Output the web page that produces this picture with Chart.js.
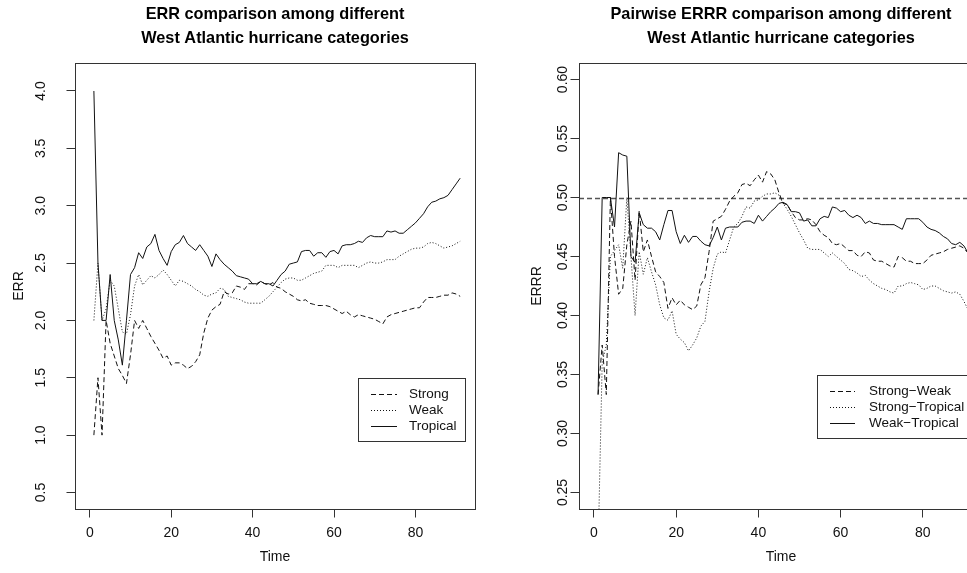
<!DOCTYPE html>
<html>
<head>
<meta charset="utf-8">
<script src="https://cdn.jsdelivr.net/npm/chart.js@4.4.1/dist/chart.umd.min.js"></script>
<style>
    html, body { margin: 0; padding: 0; background: #fff; overflow: hidden; }
    #wrap { position: relative; width: 967px; height: 573px; overflow: hidden; }
    canvas { position: absolute; top: 0; }
    #chart-err { left: 0; }
    #chart-errr { left: 520px; }
</style>
</head>
<body>
<div id="wrap">
    <canvas id="chart-err" width="550" height="573"></canvas>
    <canvas id="chart-errr" width="522" height="573"></canvas>
</div>
<script>
// time steps (x axis)
const timeSteps = Array.from({ length: 91 }, (_, i) => i + 1);
const timeTicks = [0, 20, 40, 60, 80];

// left panel: ERR per category
const errTicks = [0.5, 1.0, 1.5, 2.0, 2.5, 3.0, 3.5, 4.0];
const errStrong = [1.00, 1.50, 1.00, 2.00, 1.80, 1.69, 1.58, 1.52, 1.45, 1.70,
    2.00, 1.93, 2.00, 1.93, 1.86, 1.80, 1.74, 1.67, 1.69, 1.61,
    1.63, 1.63, 1.61, 1.58, 1.60, 1.64, 1.70, 1.89, 2.02, 2.09,
    2.12, 2.14, 2.25, 2.23, 2.24, 2.30, 2.29, 2.27, 2.32, 2.32,
    2.31, 2.34, 2.32, 2.31, 2.33, 2.29, 2.28, 2.25, 2.23, 2.21,
    2.18, 2.17, 2.18, 2.15, 2.14, 2.13, 2.13, 2.13, 2.12, 2.10,
    2.08, 2.06, 2.08, 2.05, 2.03, 2.05, 2.04, 2.03, 2.02, 2.01,
    1.99, 1.97, 2.03, 2.05, 2.06, 2.07, 2.08, 2.09, 2.10, 2.11,
    2.11, 2.16, 2.20, 2.20, 2.20, 2.21, 2.22, 2.22, 2.24, 2.23,
    2.21];
const errWeak = [2.00, 2.50, 2.00, 2.10, 2.35, 2.30, 2.10, 1.90, 1.88, 2.05,
    2.30, 2.40, 2.31, 2.35, 2.39, 2.37, 2.40, 2.44, 2.40, 2.35,
    2.30, 2.35, 2.34, 2.32, 2.30, 2.27, 2.25, 2.22, 2.21, 2.23,
    2.24, 2.28, 2.27, 2.21, 2.20, 2.19, 2.18, 2.16, 2.15, 2.15,
    2.15, 2.15, 2.18, 2.21, 2.25, 2.29, 2.33, 2.36, 2.37, 2.37,
    2.35, 2.35, 2.37, 2.39, 2.41, 2.42, 2.43, 2.48, 2.48, 2.48,
    2.46, 2.48, 2.48, 2.48, 2.48, 2.46, 2.48, 2.50, 2.51, 2.50,
    2.50, 2.51, 2.53, 2.53, 2.53, 2.56, 2.58, 2.60, 2.62, 2.63,
    2.63, 2.64, 2.67, 2.68, 2.67, 2.65, 2.63, 2.64, 2.65, 2.67,
    2.69];
const errTropical = [4.00, 2.50, 2.00, 2.00, 2.40, 2.00, 1.83, 1.61, 2.00, 2.40,
    2.46, 2.59, 2.54, 2.64, 2.67, 2.75, 2.61, 2.54, 2.48, 2.60,
    2.66, 2.68, 2.74, 2.67, 2.64, 2.61, 2.66, 2.61, 2.56, 2.47,
    2.58, 2.53, 2.49, 2.46, 2.43, 2.39, 2.38, 2.37, 2.36, 2.32,
    2.32, 2.34, 2.32, 2.32, 2.30, 2.35, 2.40, 2.43, 2.49, 2.50,
    2.51, 2.60, 2.61, 2.61, 2.56, 2.59, 2.59, 2.55, 2.60, 2.61,
    2.58, 2.65, 2.66, 2.66, 2.67, 2.69, 2.68, 2.72, 2.74, 2.73,
    2.73, 2.73, 2.78, 2.77, 2.78, 2.76, 2.76, 2.79, 2.82, 2.85,
    2.89, 2.93, 2.99, 3.03, 3.04, 3.06, 3.07, 3.09, 3.14, 3.19,
    3.24];

// right panel: pairwise ERRR
const errrTicks = [0.25, 0.30, 0.35, 0.40, 0.45, 0.50, 0.55, 0.60];
const errrReference = 0.5;
const errrStrongWeak = [0.333, 0.375, 0.333, 0.500, 0.450, 0.418, 0.423, 0.460, 0.480, 0.430,
    0.489, 0.454, 0.464, 0.450, 0.437, 0.433, 0.428, 0.406, 0.415, 0.409,
    0.413, 0.409, 0.407, 0.405, 0.408, 0.426, 0.432, 0.454, 0.480, 0.482,
    0.484, 0.490, 0.497, 0.501, 0.504, 0.511, 0.512, 0.510, 0.515, 0.519,
    0.513, 0.522, 0.520, 0.515, 0.504, 0.495, 0.494, 0.488, 0.483, 0.481,
    0.481, 0.482, 0.481, 0.477, 0.471, 0.468, 0.466, 0.461, 0.460, 0.461,
    0.458, 0.455, 0.455, 0.451, 0.450, 0.454, 0.453, 0.447, 0.446, 0.446,
    0.444, 0.442, 0.441, 0.450, 0.449, 0.446, 0.446, 0.444, 0.444, 0.444,
    0.447, 0.451, 0.452, 0.453, 0.454, 0.456, 0.457, 0.458, 0.459, 0.457,
    0.453];
const errrStrongTropical = [0.200, 0.360, 0.375, 0.450, 0.455, 0.460, 0.440, 0.500, 0.450, 0.400,
    0.454, 0.435, 0.449, 0.437, 0.426, 0.409, 0.398, 0.396, 0.404, 0.384,
    0.380, 0.377, 0.370, 0.375, 0.381, 0.391, 0.395, 0.420, 0.440, 0.452,
    0.454, 0.453, 0.464, 0.475, 0.478, 0.484, 0.492, 0.491, 0.497, 0.498,
    0.501, 0.503, 0.503, 0.504, 0.502, 0.495, 0.490, 0.484, 0.477, 0.470,
    0.464, 0.457, 0.456, 0.456, 0.456, 0.453, 0.450, 0.453, 0.450, 0.447,
    0.444, 0.439, 0.438, 0.436, 0.433, 0.434, 0.430, 0.427, 0.425, 0.423,
    0.422, 0.420, 0.419, 0.425, 0.425, 0.427, 0.428, 0.427, 0.426, 0.422,
    0.423, 0.425, 0.425, 0.423, 0.421, 0.420, 0.419, 0.420, 0.418, 0.412,
    0.405];
const errrWeakTropical = [0.333, 0.500, 0.500, 0.500, 0.475, 0.538, 0.536, 0.535, 0.450, 0.445,
    0.487, 0.477, 0.474, 0.474, 0.471, 0.464, 0.477, 0.489, 0.489, 0.471,
    0.461, 0.468, 0.462, 0.467, 0.467, 0.463, 0.460, 0.459, 0.466, 0.475,
    0.464, 0.474, 0.475, 0.475, 0.475, 0.479, 0.480, 0.480, 0.478, 0.485,
    0.480, 0.484, 0.488, 0.491, 0.495, 0.496, 0.494, 0.488, 0.488, 0.487,
    0.480, 0.481, 0.476, 0.476, 0.482, 0.484, 0.483, 0.492, 0.491, 0.488,
    0.489, 0.485, 0.483, 0.485, 0.483, 0.478, 0.480, 0.478, 0.478, 0.477,
    0.477, 0.477, 0.477, 0.475, 0.473, 0.482, 0.482, 0.482, 0.482, 0.479,
    0.475, 0.473, 0.472, 0.470, 0.467, 0.465, 0.461, 0.460, 0.462, 0.459,
    0.453];

const FONT = "'Liberation Sans', Arial, Helvetica, sans-serif";
Chart.defaults.font.family = FONT;
Chart.defaults.color = '#111';

const DASHED = [5, 3];
const DOTTED = [1, 2];

// R-style box, reference line and legend
const rFrame = {
    id: 'rFrame',
    beforeDatasetsDraw(chart, args, opts) {
        if (opts.refLevel == null) return;
        const { ctx, chartArea: a } = chart;
        const y = Math.round(chart.scales.y.getPixelForValue(opts.refLevel)) + 0.5;
        ctx.save();
        ctx.strokeStyle = '#555';
        ctx.lineWidth = 1.3;
        ctx.setLineDash(DASHED);
        ctx.beginPath();
        ctx.moveTo(a.left, y);
        ctx.lineTo(a.right, y);
        ctx.stroke();
        ctx.restore();
    },
    afterDatasetsDraw(chart, args, opts) {
        const { ctx, chartArea: a } = chart;
        ctx.save();
        ctx.strokeStyle = '#333';
        ctx.lineWidth = 1;
        ctx.strokeRect(Math.round(a.left) + 0.5, Math.round(a.top) + 0.5,
            Math.round(a.right - a.left), Math.round(a.bottom - a.top));

        const lg = opts.legend;
        if (lg) {
            ctx.fillStyle = '#fff';
            ctx.fillRect(lg.x, lg.y, lg.w, lg.h);
            ctx.strokeRect(lg.x + 0.5, lg.y + 0.5, lg.w, lg.h);
            ctx.font = '13.5px ' + FONT;
            ctx.textBaseline = 'middle';
            chart.data.datasets.forEach((ds, i) => {
                const ry = lg.y + 16 + i * 16 + 0.5;
                ctx.strokeStyle = ds.borderColor;
                ctx.lineWidth = 1;
                ctx.setLineDash(ds.borderDash || []);
                ctx.beginPath();
                ctx.moveTo(lg.x + 13, ry);
                ctx.lineTo(lg.x + lg.sample, ry);
                ctx.stroke();
                ctx.fillStyle = '#111';
                ctx.fillText(ds.label, lg.x + lg.text, ry);
            });
        }
        ctx.restore();
    }
};

function series(label, data, dash) {
    return {
        label: label,
        data: data,
        borderColor: '#111',
        borderWidth: 1,
        borderDash: dash,
        pointRadius: 0,
        tension: 0,
        fill: false
    };
}

function makeChart(id, cfg) {
    return new Chart(document.getElementById(id), {
        type: 'line',
        data: { labels: timeSteps, datasets: cfg.datasets },
        plugins: [rFrame],
        options: {
            responsive: false,
            animation: false,
            devicePixelRatio: 1,
            layout: { padding: 0 },
            plugins: {
                legend: { display: false },
                tooltip: { enabled: false },
                title: {
                    display: true,
                    text: cfg.title,
                    color: '#000',
                    font: { size: 16.3, weight: 'bold', lineHeight: '24px' },
                    padding: { top: 3, bottom: 12 }
                },
                rFrame: { refLevel: cfg.refLevel, legend: cfg.legend }
            },
            scales: {
                x: {
                    type: 'linear',
                    position: 'bottom',
                    min: -3.64,
                    max: 94.64,
                    afterBuildTicks: s => { s.ticks = timeTicks.map(v => ({ value: v })); },
                    afterFit: s => { s.height = 64; },
                    grid: { display: true, drawOnChartArea: false, drawTicks: true, tickLength: 8.5, color: '#333' },
                    border: { display: false },
                    ticks: { font: { size: 14 }, padding: 7.5, autoSkip: false, maxRotation: 0 },
                    title: { display: true, text: 'Time', font: { size: 14 }, padding: { top: 0, bottom: 7 } }
                },
                y: {
                    type: 'linear',
                    position: 'left',
                    min: cfg.yMin,
                    max: cfg.yMax,
                    afterBuildTicks: s => { s.ticks = cfg.yTicks.map(v => ({ value: v })); },
                    afterFit: s => { s.width = cfg.side; },
                    grid: { display: true, drawOnChartArea: false, drawTicks: true, tickLength: 8.5, color: '#333' },
                    border: { display: false },
                    ticks: {
                        font: { size: 14 },
                        minRotation: 90,
                        maxRotation: 90,
                        crossAlign: 'center',
                        padding: cfg.tickPad,
                        autoSkip: false,
                        callback: v => v.toFixed(cfg.digits)
                    },
                    title: { display: true, text: cfg.yTitle, font: { size: 14 }, padding: { top: cfg.titlePad, bottom: 0 } }
                },
                // keeps the plot area centred under the title
                yr: {
                    type: 'linear',
                    position: 'right',
                    display: true,
                    grid: { display: false },
                    border: { display: false },
                    ticks: { display: false },
                    afterFit: s => { s.width = cfg.side; }
                }
            }
        }
    });
}

makeChart('chart-err', {
    title: ['ERR comparison among different', 'West Atlantic hurricane categories'],
    yTitle: 'ERR',
    yMin: 0.356, yMax: 4.244, yTicks: errTicks, digits: 1,
    side: 75, tickPad: 15.5, titlePad: 10.5,
    legend: { x: 358, y: 378, w: 107, h: 63, sample: 39, text: 51 },
    datasets: [
        series('Strong', errStrong, DASHED),
        series('Weak', errWeak, DOTTED),
        series('Tropical', errTropical, [])
    ]
});

makeChart('chart-errr', {
    title: ['Pairwise ERRR comparison among different', 'West Atlantic hurricane categories'],
    yTitle: 'ERRR',
    yMin: 0.236, yMax: 0.614, yTicks: errrTicks, digits: 2,
    side: 59, tickPad: -6, titlePad: 8.6,
    refLevel: errrReference,
    legend: { x: 297, y: 375, w: 160, h: 63, sample: 38, text: 52 },
    datasets: [
        series('Strong\u2212Weak', errrStrongWeak, DASHED),
        series('Strong\u2212Tropical', errrStrongTropical, DOTTED),
        series('Weak\u2212Tropical', errrWeakTropical, [])
    ]
});
</script>
</body>
</html>
